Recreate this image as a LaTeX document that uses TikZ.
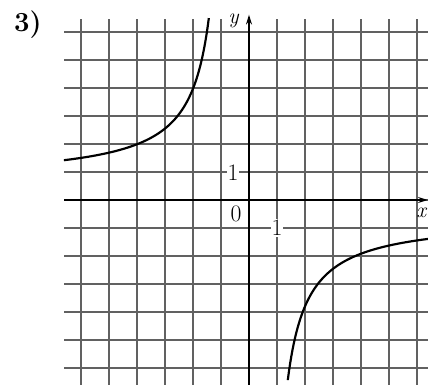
\documentclass[tikz,border=0pt]{standalone}
\usepackage{fontspec}
\usetikzlibrary{arrows.meta}
\begin{document}
\begin{tikzpicture}[x=1cm,y=1cm,
  gridline/.style={black!62,line width=1.1pt},
  axisline/.style={black,line width=1.8pt,-{Stealth[length=10pt,width=6pt]}},
  curveline/.style={black,line width=2.2pt},
  numlabel/.style={font=\fontsize{24}{26}\selectfont,fill=white,inner sep=1pt},
  axlabel/.style={font=\fontsize{22}{24}\selectfont\itshape,inner sep=1pt}]
\useasboundingbox (-8.893,-6.607) rectangle (6.393,7.143);
% grid
\foreach \i in {-6,...,6} {
  \draw[gridline] (\i,-6.607) -- (\i,6.45);
  \draw[gridline] (-6.6,\i) -- (6.393,\i);
}
% axes
\coordinate (xs) at (-6.6,0);
\coordinate (xe) at (6.39,0);
\coordinate (ys) at (0,-6.607);
\coordinate (ye) at (0,6.62);
\draw[axisline] (xs) -- (xe);
\draw[axisline] (ys) -- (ye);
% labels
\node[numlabel] (one-y) at (-0.57,0.98) {1};
\node[numlabel] (one-x) at (1.0,-1.0) {1};
\node[numlabel,fill=none] (zero) at (-0.46,-0.5) {0};
\node[axlabel] (xl) at (6.15,-0.45) {x};
\node[axlabel] (yl) at (-0.55,6.38) {y};
\node[font=\fontsize{28}{31}\selectfont\bfseries] (num) at (-7.9,6.25) {3)};
% hyperbola branches
\draw[curveline,domain=-6.61:-1.434,samples=120,smooth]
  plot (\x,{-4.26/(\x+0.7)+0.7});
\draw[curveline,domain=1.385:6.393,samples=120,smooth]
  plot (\x,{-4.25/(\x-0.65)-0.65});
\end{tikzpicture}
\end{document}
